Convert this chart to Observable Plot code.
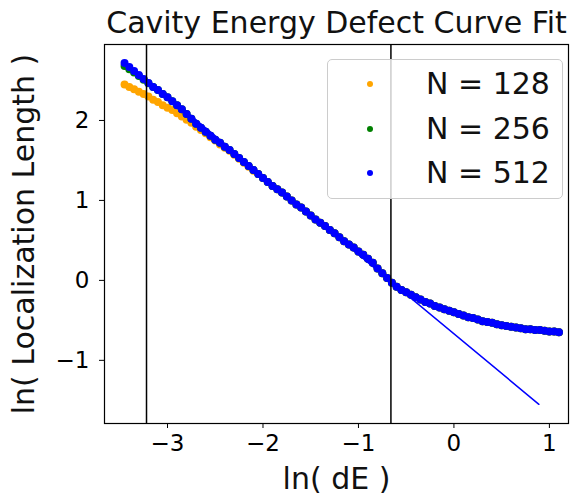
<!DOCTYPE html>
<html>
<head>
<meta charset="utf-8">
<script src="https://cdn.jsdelivr.net/npm/d3@7"></script>
<script src="https://cdn.jsdelivr.net/npm/@observablehq/plot@0.6"></script>
<style>
  html, body { margin: 0; padding: 0; background: white; }
  #wrap { position: relative; width: 579px; height: 497px; }
  #legend { position: absolute; box-sizing: border-box; background: rgba(255,255,255,0.8);
            border: 1px solid #cccccc; border-radius: 5px; font-family: "DejaVu Sans"; }
  .row { position: absolute; left: 0; right: 0; height: 0; }
  .mk { position: absolute; width: 6px; height: 6px; border-radius: 50%; margin-top: -3px; margin-left: -3px; }
  .lb { position: absolute; font-size: 30px; line-height: 30px; margin-top: -15px; white-space: nowrap; color: #111; }
</style>
</head>
<body>
<div id="wrap"></div>
<script>
const titleText = "Cavity Energy Defect Curve Fit";
const xLabel = "ln( dE )";
const yLabel = "ln( Localization Length )";
const seriesLabels = ["N = 128", "N = 256", "N = 512"];
const seriesColors = ["orange", "green", "blue"];
const xTicks = [-3, -2, -1, 0, 1];
const yTicks = [-1, 0, 1, 2];
const cutoffs = [-3.22, -0.66];
const fitX = [-3.22, 0.89];
const fitY = [2.52, -1.55];

const xs = [-3.45,-3.40,-3.35,-3.30,-3.25,-3.20,-3.15,-3.10,-3.05,-3.00,
  -2.95,-2.90,-2.85,-2.80,-2.75,-2.70,-2.65,-2.60,-2.55,-2.50,
  -2.45,-2.40,-2.35,-2.30,-2.25,-2.20,-2.15,-2.10,-2.05,-2.00,
  -1.95,-1.90,-1.85,-1.80,-1.75,-1.70,-1.65,-1.60,-1.55,-1.50,
  -1.45,-1.40,-1.35,-1.30,-1.25,-1.20,-1.15,-1.10,-1.05,-1.00,
  -0.95,-0.90,-0.85,-0.80,-0.75,-0.70,-0.65,-0.60,-0.55,-0.50,
  -0.45,-0.40,-0.35,-0.30,-0.25,-0.20,-0.15,-0.10,-0.05,0.00,
  0.05,0.10,0.15,0.20,0.25,0.30,0.35,0.40,0.45,0.50,
  0.55,0.60,0.65,0.70,0.75,0.80,0.85,0.90,0.95,1.00,
  1.05,1.10];

const y128 = [2.45,2.42,2.39,2.36,2.33,2.30,2.26,2.23,2.19,2.16,
  2.13,2.09,2.05,2.01,1.97,1.92,1.88,1.84,1.79,1.75,
  1.70,1.66,1.62,1.57,1.52,1.47,1.42,1.37,1.33,1.28,
  1.23,1.18,1.14,1.10,1.05,1.00,0.95,0.91,0.86,0.81,
  0.76,0.72,0.68,0.63,0.59,0.54,0.49,0.45,0.41,0.36,
  0.32,0.27,0.22,0.15,0.09,0.03,-0.03,-0.08,-0.12,-0.15,
  -0.18,-0.21,-0.24,-0.27,-0.29,-0.32,-0.34,-0.36,-0.38,-0.40,
  -0.42,-0.44,-0.46,-0.47,-0.49,-0.51,-0.52,-0.53,-0.55,-0.56,
  -0.57,-0.58,-0.59,-0.60,-0.61,-0.61,-0.62,-0.62,-0.63,-0.64,
  -0.64,-0.65];

const y256 = [2.68,2.64,2.60,2.555,2.51,2.465,2.42,2.38,2.33,2.29,
  2.24,2.19,2.14,2.08,2.02,1.96,1.91,1.86,1.81,1.76,
  1.72,1.67,1.63,1.58,1.53,1.48,1.43,1.38,1.33,1.28,
  1.23,1.18,1.14,1.10,1.05,1.00,0.95,0.91,0.86,0.81,
  0.76,0.72,0.68,0.63,0.59,0.54,0.49,0.45,0.41,0.36,
  0.32,0.27,0.22,0.15,0.09,0.03,-0.03,-0.08,-0.12,-0.15,
  -0.18,-0.21,-0.24,-0.27,-0.29,-0.32,-0.34,-0.36,-0.38,-0.40,
  -0.42,-0.44,-0.46,-0.47,-0.49,-0.51,-0.52,-0.53,-0.55,-0.56,
  -0.57,-0.58,-0.59,-0.60,-0.61,-0.61,-0.62,-0.62,-0.63,-0.64,
  -0.64,-0.65];

const y512 = [2.72,2.67,2.62,2.57,2.52,2.47,2.42,2.38,2.33,2.29,
  2.24,2.19,2.14,2.08,2.02,1.96,1.91,1.86,1.81,1.76,
  1.72,1.67,1.63,1.58,1.53,1.48,1.43,1.38,1.33,1.28,
  1.23,1.18,1.14,1.10,1.05,1.00,0.95,0.91,0.86,0.81,
  0.76,0.72,0.68,0.63,0.59,0.54,0.49,0.45,0.41,0.36,
  0.32,0.27,0.22,0.15,0.09,0.03,-0.03,-0.08,-0.12,-0.15,
  -0.18,-0.21,-0.24,-0.27,-0.29,-0.32,-0.34,-0.36,-0.38,-0.40,
  -0.42,-0.44,-0.46,-0.47,-0.49,-0.51,-0.52,-0.53,-0.55,-0.56,
  -0.57,-0.58,-0.59,-0.60,-0.61,-0.61,-0.62,-0.62,-0.63,-0.64,
  -0.64,-0.65];

const seriesY = [y128, y256, y512];
const fit = fitX.map((x, i) => ({x, y: fitY[i]}));
const fmt = d3.format("d");
const font = "DejaVu Sans";

const dotMarks = seriesY.map((ys, s) =>
  Plot.dot(xs.map((x, i) => ({x, y: ys[i]})), {x: "x", y: "y", r: 4, fill: seriesColors[s], stroke: "none"})
);

const chart = Plot.plot({
  width: 579, height: 497,
  marginTop: 44, marginLeft: 104, marginRight: 11, marginBottom: 74,
  x: {domain: [-3.66, 1.2]},
  y: {domain: [-1.79, 2.95]},
  style: {fontFamily: font, color: "black", background: "white", overflow: "visible"},
  marks: [
    Plot.axisX({ticks: xTicks, tickSize: 5, tickPadding: 6, fontSize: 23, label: null, tickFormat: fmt, stroke: "black"}),
    Plot.axisY({ticks: yTicks, tickSize: 5, tickPadding: 10, fontSize: 23, label: null, tickFormat: fmt, stroke: "black"}),
    ...dotMarks,
    Plot.line(fit, {x: "x", y: "y", stroke: "blue", strokeWidth: 1.5}),
    Plot.ruleX(cutoffs, {stroke: "black", strokeWidth: 1.5}),
    Plot.frame({stroke: "black", strokeWidth: 1.2}),
    Plot.text([titleText], {frameAnchor: "top", dy: -33, fontSize: 30, fill: "#111", textAnchor: "middle"}),
    Plot.text([xLabel], {frameAnchor: "bottom", dy: 65, fontSize: 30, fill: "#111", textAnchor: "middle"}),
    Plot.text([yLabel], {frameAnchor: "left", dx: -80, rotate: -90, fontSize: 30, fill: "#111", textAnchor: "middle"})
  ]
});

const wrap = document.getElementById("wrap");
wrap.appendChild(chart);

// legend overlay (matplotlib-style, inside the axes, upper right)
const legend = document.createElement("div");
legend.id = "legend";
Object.assign(legend.style, {left: "327px", top: "59px", width: "236px", height: "140px"});
const rowTops = [24, 69, 113];
seriesLabels.forEach((lab, i) => {
  const row = document.createElement("div");
  row.className = "row";
  row.style.top = rowTops[i] + "px";
  const mk = document.createElement("div");
  mk.className = "mk";
  mk.style.left = "42px";
  mk.style.background = seriesColors[i];
  const lb = document.createElement("div");
  lb.className = "lb";
  lb.style.left = "98px";
  lb.textContent = lab;
  row.appendChild(mk);
  row.appendChild(lb);
  legend.appendChild(row);
});
wrap.appendChild(legend);
</script>
</body>
</html>
